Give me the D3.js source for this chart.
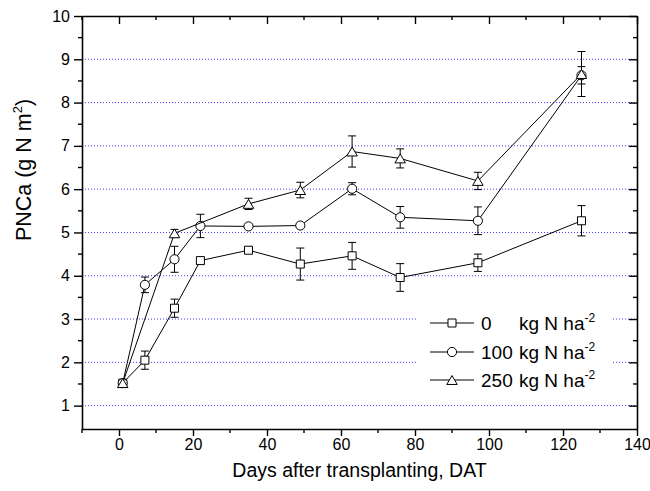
<!DOCTYPE html>
<html>
<head>
<meta charset="utf-8">
<script src="https://cdn.jsdelivr.net/npm/d3@7"></script>
<style>
  body { margin: 0; background: #fff; }
  text { font-family: "Liberation Sans", Arial, sans-serif; fill: #000; }
</style>
</head>
<body>
<div id="chart"></div>
<script>
// data (days after transplanting, PNCa, error)
const days0 = [1, 7, 15, 22, 35, 49, 63, 76, 97, 125];
const pnca0 = [1.52, 2.05, 3.25, 4.35, 4.59, 4.27, 4.46, 3.96, 4.30, 5.27];
const err0 = [0, 0.21, 0.21, 0.07, 0.07, 0.37, 0.31, 0.32, 0.20, 0.35];

const days100 = [1, 7, 15, 22, 35, 49, 63, 76, 97, 125];
const pnca100 = [1.52, 3.79, 4.38, 5.15, 5.14, 5.16, 6.01, 5.35, 5.27, 8.63];
const err100 = [0, 0.18, 0.30, 0.27, 0.05, 0.05, 0.14, 0.25, 0.32, 0.20];

const days250 = [1, 15, 35, 49, 63, 76, 97, 125];
const pnca250 = [1.52, 4.98, 5.66, 5.98, 6.87, 6.71, 6.19, 8.66];
const err250 = [0, 0.09, 0.13, 0.18, 0.36, 0.22, 0.20, 0.52];

const seriesLabels = ["0", "100", "250"];
const xTicks = [0, 20, 40, 60, 80, 100, 120, 140];
const yTicks = [1, 2, 3, 4, 5, 6, 7, 8, 9, 10];

const width = 650, height = 491;
const margin = { top: 16, right: 13, bottom: 62, left: 82 };

const svg = d3.select("#chart").append("svg")
  .attr("width", width)
  .attr("height", height);

const x = d3.scaleLinear().domain([-10, 140]).range([margin.left, width - margin.right]);
const y = d3.scaleLinear().domain([0.46, 10]).range([height - margin.bottom, margin.top]);

// triangle centred on its box, like Origin does
const triUp = {
  draw(ctx, size) {
    const w = Math.sqrt(size), h = w * 0.85;
    ctx.moveTo(0, -h / 2);
    ctx.lineTo(w / 2, h / 2);
    ctx.lineTo(-w / 2, h / 2);
    ctx.closePath();
  }
};

const series = [
  { name: seriesLabels[0], days: days0, vals: pnca0, errs: err0, shape: d3.symbolSquare, size: 64 },
  { name: seriesLabels[1], days: days100, vals: pnca100, errs: err100, shape: d3.symbolCircle, size: 66 },
  { name: seriesLabels[2], days: days250, vals: pnca250, errs: err250, shape: triUp, size: 110 }
];

// gridlines
svg.append("g").selectAll("line")
  .data(yTicks.filter(d => d < 10))
  .join("line")
  .attr("x1", x(-10)).attr("x2", x(140))
  .attr("y1", d => y(d)).attr("y2", d => y(d))
  .attr("stroke", "#3a3aff")
  .attr("stroke-width", 1)
  .attr("stroke-dasharray", "1,2");

// series lines, error bars, markers
series.forEach(s => {
  const pts = s.days.map((d, i) => ({ x: d, y: s.vals[i], e: s.errs[i] }));

  svg.append("path")
    .datum(pts)
    .attr("fill", "none")
    .attr("stroke", "#000")
    .attr("stroke-width", 1)
    .attr("d", d3.line().x(d => x(d.x)).y(d => y(d.y)));

  const eb = svg.append("g").selectAll("g")
    .data(pts.filter(d => d.e > 0))
    .join("g")
    .attr("stroke", "#000")
    .attr("stroke-width", 1);
  eb.append("line")
    .attr("x1", d => x(d.x)).attr("x2", d => x(d.x))
    .attr("y1", d => y(d.y - d.e)).attr("y2", d => y(d.y + d.e));
  eb.append("line")
    .attr("x1", d => x(d.x) - 4).attr("x2", d => x(d.x) + 4)
    .attr("y1", d => y(d.y + d.e)).attr("y2", d => y(d.y + d.e));
  eb.append("line")
    .attr("x1", d => x(d.x) - 4).attr("x2", d => x(d.x) + 4)
    .attr("y1", d => y(d.y - d.e)).attr("y2", d => y(d.y - d.e));

  svg.append("g").selectAll("path")
    .data(pts)
    .join("path")
    .attr("d", d3.symbol().type(s.shape).size(s.size))
    .attr("transform", d => `translate(${x(d.x)},${y(d.y)})`)
    .attr("fill", "#fff")
    .attr("stroke", "#000")
    .attr("stroke-width", 1);
});

// axes
const minorY = d3.range(1, 20).map(i => i * 0.5 + 0.5).filter(v => v % 1 !== 0);
const minorX = d3.range(-10, 141, 20);

function styleAxis(g) {
  g.select(".domain").attr("stroke", "#000").attr("stroke-width", 1.6);
  g.selectAll(".tick line").attr("stroke", "#000").attr("stroke-width", 1.4);
  g.selectAll(".tick text").style("font-size", "16px").attr("fill", "#000");
}

const axBottom = svg.append("g")
  .attr("transform", `translate(0,${y(0.46)})`)
  .call(d3.axisBottom(x).tickValues(xTicks).tickSizeInner(7).tickSizeOuter(0).tickPadding(3))
  .call(styleAxis);
axBottom.append("g").selectAll("line").data(minorX).join("line")
  .attr("x1", d => x(d)).attr("x2", d => x(d)).attr("y1", 0).attr("y2", 4)
  .attr("stroke", "#000").attr("stroke-width", 1.4);

const axTop = svg.append("g")
  .attr("transform", `translate(0,${margin.top})`)
  .call(d3.axisTop(x).tickValues(xTicks).tickSizeInner(-8).tickSizeOuter(0).tickFormat(""))
  .call(styleAxis);
axTop.append("g").selectAll("line").data(minorX).join("line")
  .attr("x1", d => x(d)).attr("x2", d => x(d)).attr("y1", 0).attr("y2", 4)
  .attr("stroke", "#000").attr("stroke-width", 1.4);

const axLeft = svg.append("g")
  .attr("transform", `translate(${margin.left},0)`)
  .call(d3.axisLeft(y).tickValues(yTicks).tickSizeInner(8).tickSizeOuter(0).tickPadding(4))
  .call(styleAxis);
axLeft.append("g").selectAll("line").data(minorY).join("line")
  .attr("x1", -4).attr("x2", 0).attr("y1", d => y(d)).attr("y2", d => y(d))
  .attr("stroke", "#000").attr("stroke-width", 1.4);

const axRight = svg.append("g")
  .attr("transform", `translate(${width - margin.right},0)`)
  .call(d3.axisRight(y).tickValues(yTicks).tickSizeInner(-8).tickSizeOuter(0).tickFormat(""))
  .call(styleAxis);
axRight.append("g").selectAll("line").data(minorY).join("line")
  .attr("x1", -4).attr("x2", 0).attr("y1", d => y(d)).attr("y2", d => y(d))
  .attr("stroke", "#000").attr("stroke-width", 1.4);

// axis titles
svg.append("text")
  .attr("x", (x(-10) + x(140)) / 2)
  .attr("y", 477)
  .attr("text-anchor", "middle")
  .style("font-size", "19.5px")
  .text("Days after transplanting, DAT");

const ylab = svg.append("text")
  .attr("transform", "translate(31,170) rotate(-90)")
  .attr("text-anchor", "middle")
  .style("font-size", "21.5px");
ylab.append("tspan").text("PNCa (g N m");
ylab.append("tspan").attr("dy", -9).style("font-size", "13px").text("2");
ylab.append("tspan").attr("dy", 9).text(")");

// legend
const lg = svg.append("g");
lg.append("rect")
  .attr("x", 418).attr("y", 305).attr("width", 194).attr("height", 86)
  .attr("fill", "#fff");

const rowY = [323, 352, 380];
series.forEach((s, i) => {
  const row = lg.append("g").attr("transform", `translate(0,${rowY[i]})`);
  row.append("line").attr("x1", 430).attr("x2", 474).attr("y1", 0).attr("y2", 0)
    .attr("stroke", "#000").attr("stroke-width", 1);
  row.append("path")
    .attr("d", d3.symbol().type(s.shape).size(s.size))
    .attr("transform", "translate(452,0)")
    .attr("fill", "#fff").attr("stroke", "#000");
  row.append("text").attr("x", 481).attr("y", 7).style("font-size", "19px").text(s.name);
  const t = row.append("text").attr("x", 519).attr("y", 7).style("font-size", "19px");
  t.append("tspan").text("kg N ha");
  t.append("tspan").attr("dy", -8).style("font-size", "12px").text("-2");
});
</script>
</body>
</html>
